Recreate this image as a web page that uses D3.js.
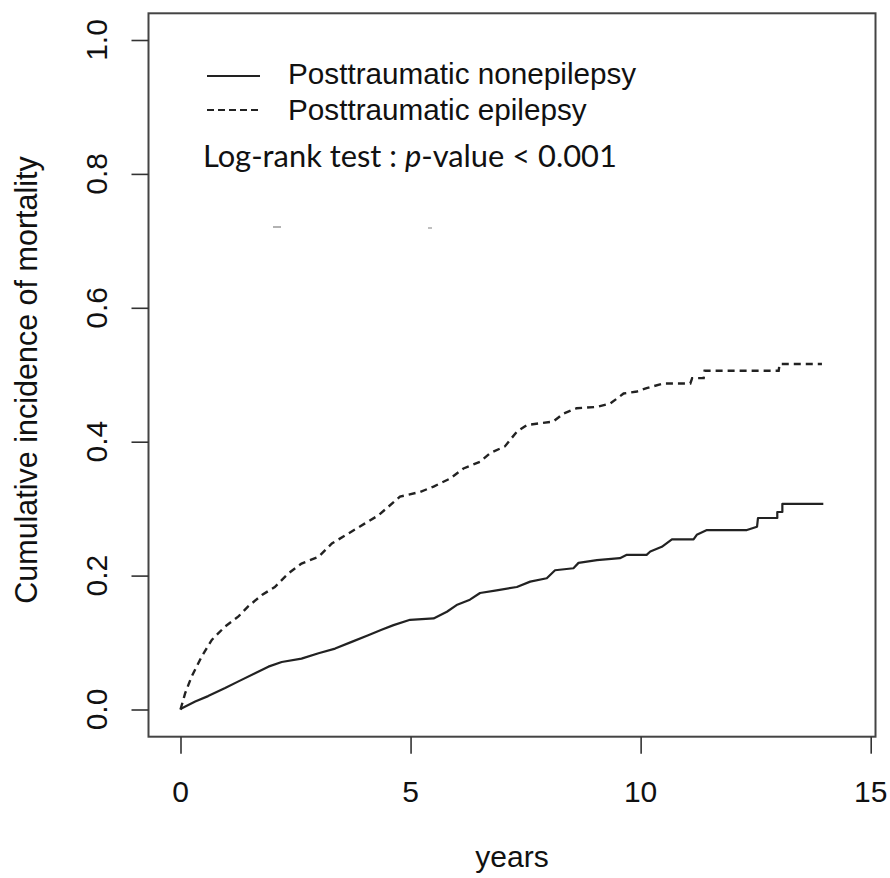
<!DOCTYPE html>
<html>
<head>
<meta charset="utf-8">
<script src="https://cdn.jsdelivr.net/npm/d3@7"></script>
<style>
  body { margin: 0; background: #fff; }
  text { font-family: "Liberation Sans", Arial, sans-serif; fill: #111; }
</style>
</head>
<body>
<script>
// curve corners (years, cumulative incidence)
// the early parts are many tiny steps, so they are traced as a path through the corners
var nonEpiYears = [0, 0.03, 0.32, 0.60, 0.97, 1.26, 1.62, 1.91, 2.2, 2.63, 3.0, 3.36, 3.72, 4.08, 4.37, 4.63,
  4.99, 5.50, 5.79, 6.0, 6.29, 6.51, 6.87, 7.31, 7.60, 7.96, 8.14, 8.54, 8.65, 9.05, 9.55,
  9.70, 10.13, 10.21, 10.46, 10.68, 11.15, 11.22, 11.44, 12.31, 12.53, 12.55, 12.97, 12.97, 13.08, 13.08, 13.97];
var nonEpiValues = [0, 0.002, 0.012, 0.020, 0.032, 0.042, 0.054, 0.064, 0.071, 0.076, 0.084, 0.091, 0.101, 0.111, 0.119, 0.126,
  0.134, 0.136, 0.146, 0.156, 0.164, 0.174, 0.178, 0.183, 0.191, 0.196, 0.208, 0.211, 0.219, 0.223, 0.226,
  0.231, 0.231, 0.236, 0.243, 0.254, 0.254, 0.261, 0.268, 0.268, 0.273, 0.286, 0.286, 0.295, 0.295, 0.307, 0.307];

var epiYears = [0, 0.1, 0.24, 0.46, 0.68, 0.97, 1.26, 1.47, 1.77, 2.05, 2.34, 2.63, 3.0, 3.29, 3.65, 4.01, 4.3, 4.52,
  4.77, 5.21, 5.50, 5.86, 6.15, 6.51, 6.73, 7.05, 7.31, 7.53, 8.10, 8.32, 8.61, 9.05, 9.34,
  9.63, 9.92, 10.13, 10.50, 11.08, 11.12, 11.37, 11.39, 13.0, 13.02, 13.94];
var epiValues = [0, 0.024, 0.049, 0.079, 0.104, 0.124, 0.139, 0.154, 0.171, 0.183, 0.203, 0.218, 0.228, 0.248, 0.263, 0.278, 0.290, 0.303,
  0.318, 0.325, 0.333, 0.345, 0.360, 0.370, 0.383, 0.393, 0.415, 0.425, 0.430, 0.442, 0.450, 0.452, 0.457,
  0.472, 0.475, 0.480, 0.487, 0.487, 0.495, 0.495, 0.506, 0.506, 0.516, 0.516];

var xTicks = [0, 5, 10, 15];
var yTicks = [0, 0.2, 0.4, 0.6, 0.8, 1.0];
var legendLabels = ['Posttraumatic nonepilepsy', 'Posttraumatic epilepsy'];

var w = 890, h = 878;
var box = {left: 148.5, right: 875.5, top: 13.3, bottom: 736.7};

var x = d3.scaleLinear().domain([0, 15]).range([180.5, 870.7]);
var y = d3.scaleLinear().domain([0, 1]).range([709.5, 40]);

var svg = d3.select('body').append('svg')
  .attr('width', w)
  .attr('height', h);

svg.append('rect').attr('width', w).attr('height', h).attr('fill', 'white');

// plot frame
svg.append('rect')
  .attr('x', box.left).attr('y', box.top)
  .attr('width', box.right - box.left)
  .attr('height', box.bottom - box.top)
  .attr('fill', 'none')
  .attr('stroke', '#444')
  .attr('stroke-width', 2);

// x axis
var xAxis = svg.append('g').attr('transform', 'translate(0,' + box.bottom + ')')
  .call(d3.axisBottom(x).tickValues(xTicks).tickSize(17).tickSizeOuter(0));
xAxis.select('.domain').remove();
xAxis.selectAll('line').attr('stroke', '#333').attr('stroke-width', 1.6);
xAxis.selectAll('text').remove();
svg.selectAll('.xlab')
  .data(xTicks)
  .enter().append('text')
  .attr('x', function(d){ return x(d); })
  .attr('y', 802)
  .attr('text-anchor', 'middle')
  .style('font-size', '30px')
  .text(function(d){ return d; });

// y axis
var yAxis = svg.append('g').attr('transform', 'translate(' + box.left + ',0)')
  .call(d3.axisLeft(y).tickValues(yTicks).tickSize(17).tickSizeOuter(0));
yAxis.select('.domain').remove();
yAxis.selectAll('line').attr('stroke', '#333').attr('stroke-width', 1.6);
yAxis.selectAll('text').remove();
svg.selectAll('.ylab')
  .data(yTicks)
  .enter().append('text')
  .attr('transform', function(d){ return 'translate(107,' + y(d) + ') rotate(-90)'; })
  .attr('text-anchor', 'middle')
  .style('font-size', '30px')
  .text(function(d){ return d3.format('.1f')(d); });

// axis titles
svg.append('text')
  .attr('x', (box.left + box.right) / 2)
  .attr('y', 867)
  .attr('text-anchor', 'middle')
  .style('font-size', '30px')
  .text('years');

svg.append('text')
  .attr('transform', 'translate(37,' + 380 + ') rotate(-90)')
  .attr('text-anchor', 'middle')
  .style('font-size', '30.5px')
  .text('Cumulative incidence of mortality');

// curves
var line = d3.line()
  .x(function(d){ return x(d[0]); })
  .y(function(d){ return y(d[1]); });

svg.append('path')
  .datum(d3.zip(nonEpiYears, nonEpiValues))
  .attr('d', line)
  .attr('fill', 'none')
  .attr('stroke', '#222')
  .attr('stroke-width', 2.2)
  .attr('stroke-linejoin', 'round');

svg.append('path')
  .datum(d3.zip(epiYears, epiValues))
  .attr('d', line)
  .attr('fill', 'none')
  .attr('stroke', '#222')
  .attr('stroke-width', 2.4)
  .attr('stroke-dasharray', '7,5');

// legend
var legend = svg.append('g');
legend.selectAll('line')
  .data(legendLabels)
  .enter().append('line')
  .attr('x1', 207).attr('x2', 260)
  .attr('y1', function(d, i){ return i ? 110 : 76; })
  .attr('y2', function(d, i){ return i ? 110 : 76; })
  .attr('stroke', '#222')
  .attr('stroke-width', 1.8)
  .attr('stroke-dasharray', function(d, i){ return i ? '7,4' : null; });
legend.selectAll('text')
  .data(legendLabels)
  .enter().append('text')
  .attr('x', 288)
  .attr('y', function(d, i){ return i ? 120 : 84; })
  .style('font-size', '29.7px')
  .text(function(d){ return d; });

// log-rank annotation, fitted to its width in the picture
var note = svg.append('text')
  .attr('x', 203)
  .attr('y', 166.5)
  .style('font-family', 'Lato, "Open Sans", sans-serif')
  .style('font-size', '34px');
note.append('tspan').text('Log-rank test : ');
note.append('tspan').style('font-style', 'italic').text('p');
note.append('tspan').text('-value < 0.001');
var len = note.node().getComputedTextLength();
note.style('font-size', (34 * 414 / len) + 'px');

// faint stray marks left in the picture
svg.append('line').attr('x1', 273).attr('x2', 281).attr('y1', 227).attr('y2', 227)
  .attr('stroke', '#999').attr('stroke-width', 1.5);
svg.append('line').attr('x1', 428).attr('x2', 432).attr('y1', 228).attr('y2', 228)
  .attr('stroke', '#aaa').attr('stroke-width', 1.5);
</script>
</body>
</html>
